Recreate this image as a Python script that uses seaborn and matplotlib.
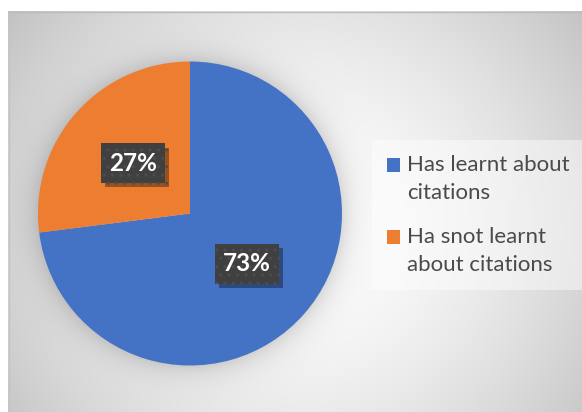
import numpy as np
import matplotlib
matplotlib.use("Agg")
import matplotlib.pyplot as plt
import seaborn as sns
from matplotlib import patheffects
from matplotlib.patches import Rectangle, Wedge
from matplotlib.legend_handler import HandlerPatch

# Survey result: share of respondents
categories = ["Has learnt about\ncitations", "Ha snot learnt\nabout citations"]
shares = [73, 27]
colors = ["#4472C4", "#ED7D31"]

sns.set_theme(style="white")
plt.rcParams["font.family"] = ["Lato", "DejaVu Sans"]

W, H = 582, 412
fig = plt.figure(figsize=(W / 100, H / 100), dpi=100)

# Pie geometry in pixels
pcx, pcy, pr = 190, 213.5, 152

# Soft radial background with a halo around the pie
yy, xx = np.mgrid[0:H, 0:W] + 0.5
dist = np.hypot(xx - 300, yy - 230)
lum = 255 - 57 * (dist / 350) ** 1.6
edge = np.hypot(xx - pcx, yy - pcy) - pr
halo = np.where(edge > 0, np.exp(-np.clip(edge, 0, None) / 13), 1.0)
lum = lum * (1 - 0.14 * halo)
lum[:11, :] = 255
lum[:, :8] = 255
img = np.clip(lum, 0, 255) / 255

bg = fig.add_axes([0, 0, 1, 1], zorder=0)
bg.imshow(np.dstack([img] * 3), extent=(0, W, H, 0), interpolation="bilinear", aspect="auto")
bg.plot([8, W], [11.5, 11.5], color="#bcbcbc", lw=1)
bg.plot([8.5, 8.5], [11, H], color="#c4c4c4", lw=1)
bg.set_xlim(0, W)
bg.set_ylim(H, 0)
bg.axis("off")

# Pie chart
ax = fig.add_axes([(pcx - pr) / W, (H - pcy - pr) / H, 2 * pr / W, 2 * pr / H], zorder=1)
wedges, _, pct = ax.pie(
    shares, colors=colors, startangle=90, counterclock=False,
    autopct="%1.0f%%", pctdistance=0.5, wedgeprops=dict(linewidth=0),
)
ax.set_xlim(-1, 1)
ax.set_ylim(-1, 1)

for t in pct:
    t.set(color="white", fontsize=17.5, fontweight="bold", zorder=3)
    t.set_bbox(dict(boxstyle="square,pad=0.34", facecolor="#404040", edgecolor="#4d4d4d",
                    linewidth=0, hatch=".."))
    t.get_bbox_patch().set_path_effects(
        [patheffects.SimplePatchShadow(offset=(3, -3), alpha=0.35, shadow_rgbFace="black"),
         patheffects.Normal()]
    )


def top_square(legend, orig_handle, xdescent, ydescent, width, height, fontsize):
    return Rectangle((-xdescent, -ydescent + 10), width, height)


leg = fig.legend(
    wedges, categories, loc="upper left",
    bbox_to_anchor=(372 / W, 1 - 140 / H), bbox_transform=fig.transFigure,
    borderaxespad=0, frameon=True, facecolor="white", framealpha=0.45,
    edgecolor="none", fancybox=False, fontsize=16, handlelength=0.585,
    handleheight=0.63, handletextpad=0.3, borderpad=0.68, labelspacing=1.1,
    labelcolor="#4a4a4a", handler_map={Wedge: HandlerPatch(patch_func=top_square)},
)
for t in leg.get_texts():
    t.set_linespacing(1.47)

fig.savefig("out.png", dpi=100)
